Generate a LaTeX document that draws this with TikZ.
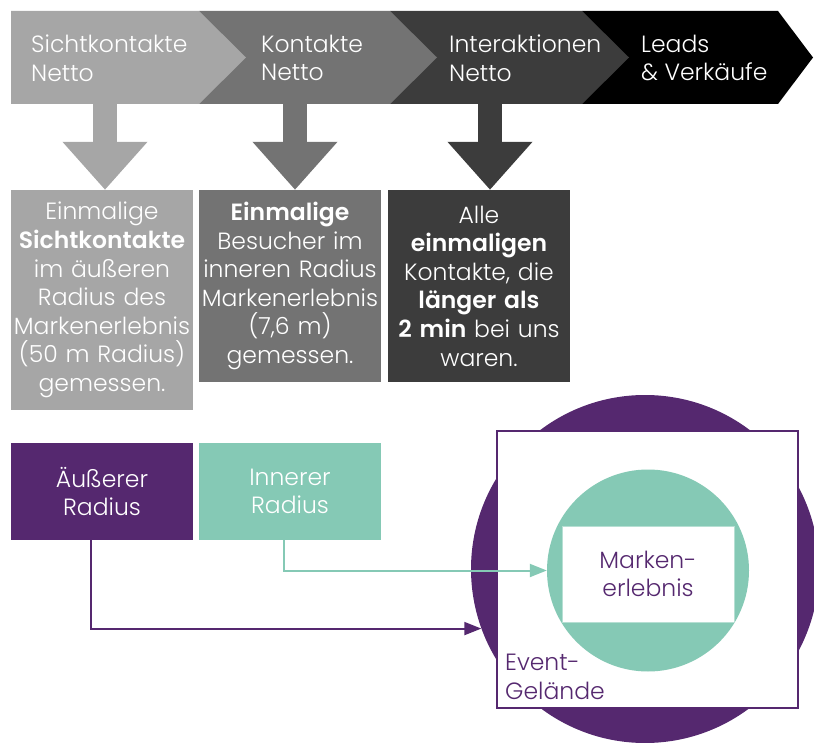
\documentclass[tikz,border=0pt]{standalone}
\usepackage{fontspec}
\setmainfont{Poppins}[UprightFont=* Light, BoldFont=* SemiBold]
\usepackage{xcolor}
\usepackage{tikz}
\usetikzlibrary{arrows.meta, calc, positioning}
\definecolor{grauA}{HTML}{A6A6A6}
\definecolor{grauB}{HTML}{737373}
\definecolor{grauC}{HTML}{3C3C3C}
\definecolor{lila}{HTML}{55286F}
\definecolor{mint}{HTML}{85C9B5}

\begin{document}
\begin{tikzpicture}[x=1pt,y=-1pt,
    txt/.style={font=\fontsize{23.5}{28.6}\selectfont, text=white, inner sep=0pt},
    band/.style={txt, align=left, anchor=west},
    info/.style={txt, align=center, minimum width=182pt, text width=180pt},
    block/.style={line width=24pt, -{Triangle[length=48pt,width=82pt]}},
    link/.style={line width=2pt, -{Triangle[length=17pt,width=13pt]}}]
    \useasboundingbox (0,0) rectangle (814,743);
    \clip (0,0) rectangle (814,743);

    \foreach \a/\b/\t/\c in {582/778/35/black, 390/582/47/grauC, 199/390/47/grauB, 11/199/47/grauA}
        \fill[\c] (\a,11) -- (\b,11) -- (\b+\t,57.5) -- (\b,104) -- (\a,104) -- cycle;

    \node[band] (k1) at (31,58) {Sichtkontakte\\Netto};
    \node[band] (k2) at (261,58) {Kontakte\\Netto};
    \node[band] (k3) at (449,58) {Interaktionen\\Netto};
    \node[band] (k4) at (641,58) {Leads\\\& Verkäufe};

    \node[info, fill=grauA, minimum height=220pt] (b1) at (102,300)
        {Einmalige\\\textbf{Sichtkontakte}\\im äußeren\\Radius des\\Markenerlebnis\\(50 m Radius)\\gemessen.};
    \node[info, fill=grauB, minimum height=192pt] (b2) at (290,286)
        {\textbf{Einmalige}\\Besucher im\\inneren Radius\\Markenerlebnis\\(7,6 m)\\gemessen.};
    \node[info, fill=grauC, minimum height=192pt] (b3) at (479,286)
        {Alle\\\textbf{einmaligen}\\Kontakte, die\\\textbf{länger als}\\\textbf{2 min} bei uns\\waren.};

    \coordinate (c1) at (105,104);
    \coordinate (c2) at (295,104);
    \coordinate (c3) at (490,104);
    \draw[block, grauA] (c1) -- (c1 |- b1.north);
    \draw[block, grauB] (c2) -- (c2 |- b2.north);
    \draw[block, grauC] (c3) -- (c3 |- b3.north);

    \node[info, fill=lila, minimum height=97pt] (aussen) at (102,491.5) {Äußerer\\Radius};
    \node[info, fill=mint, minimum height=97pt] (innen) at (290,491.5) {Innerer\\Radius};

    \node[circle, fill=lila, minimum size=348pt, inner sep=0pt] (kreis) at (645,569) {};
    \node[draw=lila, line width=2pt, fill=white, minimum width=301pt, minimum height=277pt] (gelaende) at (647.5,569.5) {};
    \node[circle, fill=mint, minimum size=202pt, inner sep=0pt] (markt) at (648,570.5) {};
    \node[txt, text=lila, align=center, draw=mint!60, fill=white, minimum width=172pt, minimum height=96pt] (marke) at (648,574) {Marken-\\erlebnis};
    \node[band, text=lila] (event) at (505,677) {Event-\\Gelände};

    \coordinate (a1) at ($(aussen.south)+(-11,0)$);
    \coordinate (i1) at ($(innen.south)+(-6,0)$);
    \draw[link, lila] (a1) |- (kreis.200);
    \draw[link, mint] (i1) |- (markt.west);
\end{tikzpicture}
\end{document}
